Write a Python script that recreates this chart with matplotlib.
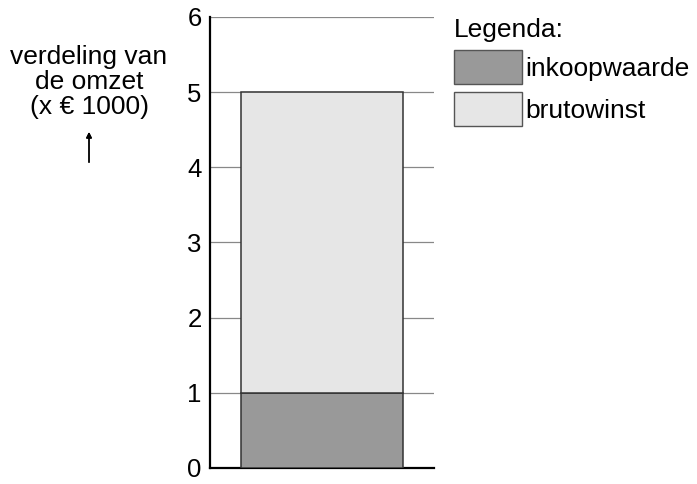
import matplotlib
matplotlib.use("Agg")
import matplotlib.pyplot as plt
from matplotlib.patches import Patch

plt.rcParams["font.family"] = ["Liberation Sans", "DejaVu Sans"]

# waarden (x 1000 euro)
categorieen = ["omzet"]
inkoopwaarde = [1]
brutowinst = [4]
labels = ["inkoopwaarde", "brutowinst"]
kleuren = ["#999999", "#e6e6e6"]
yticks = [0, 1, 2, 3, 4, 5, 6]

fig = plt.figure(figsize=(6.97, 4.84), dpi=100)
ax = fig.add_axes([0.3013, 0.0331, 0.3214, 0.9318])

ax.bar(categorieen, inkoopwaarde, width=1, color=kleuren[0], edgecolor="#333333", linewidth=1.1, zorder=3)
ax.bar(categorieen, brutowinst, bottom=inkoopwaarde, width=1, color=kleuren[1],
       edgecolor="#333333", linewidth=1.1, zorder=3)

ax.set_xlim(-0.691, 0.691)
ax.set_ylim(0, 6)
ax.set_yticks(yticks)
ax.set_xticks([])
ax.tick_params(axis="y", length=0, labelsize=18.5, pad=6)
ax.yaxis.grid(True, color="#888888", linewidth=0.9)
ax.set_axisbelow(True)
for s in ["top", "right"]:
    ax.spines[s].set_visible(False)
ax.spines["left"].set_linewidth(1.6)
ax.spines["bottom"].set_linewidth(1.6)

# as-label met pijl
fig.text(0.1277, 0.8306, "verdeling van\nde omzet\n(x € 1000)", ha="center", va="center",
         fontsize=19, linespacing=1.05)
fig.add_artist(plt.annotate("", xy=(0.1277, 0.733), xytext=(0.1277, 0.659),
                            xycoords="figure fraction", textcoords="figure fraction",
                            arrowprops=dict(arrowstyle="-|>", color="black", lw=1,
                                            mutation_scale=8)))

handles = [Patch(facecolor=kleuren[i], edgecolor="#555555", linewidth=1) for i in range(2)]
leg = fig.legend(handles, labels, title="Legenda:", loc="upper left",
                 bbox_to_anchor=(0.651, 0.962), frameon=False, fontsize=19,
                 title_fontsize=19, alignment="left", handlelength=2.6, handleheight=1.6,
                 handletextpad=0.12, labelspacing=0.3, borderpad=0, borderaxespad=0)

fig.savefig("out.png", dpi=100)
